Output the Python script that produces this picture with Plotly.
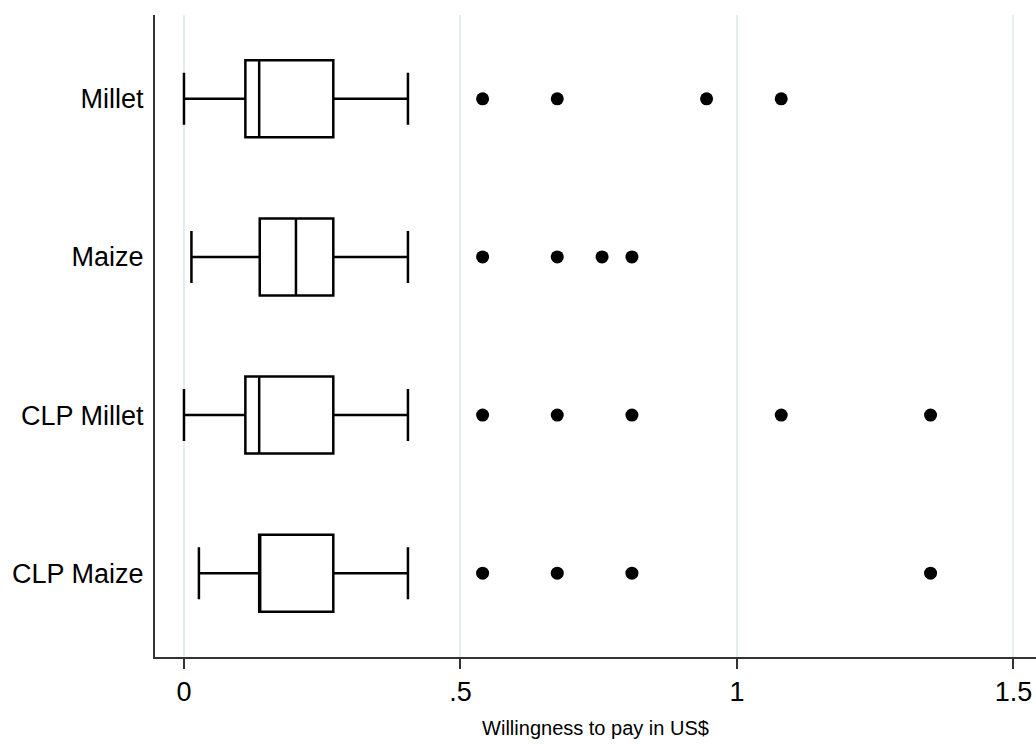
import plotly.graph_objects as go

categories = ["Millet", "Maize", "CLP Millet", "CLP Maize"]
lower_whisker = [0.0, 0.0135, 0.0, 0.027]
q1 = [0.111, 0.137, 0.111, 0.136]
median = [0.136, 0.2025, 0.136, 0.136]
q3 = [0.27, 0.27, 0.27, 0.27]
upper_whisker = [0.405, 0.405, 0.405, 0.405]

outlier_cat = (["Millet"] * 4 + ["Maize"] * 4 + ["CLP Millet"] * 5 + ["CLP Maize"] * 4)
outlier_val = ([0.54, 0.675, 0.945, 1.08] +
               [0.54, 0.675, 0.756, 0.81] +
               [0.54, 0.675, 0.81, 1.08, 1.35] +
               [0.54, 0.675, 0.81, 1.35])

x_ticks = [0, 0.5, 1, 1.5]
x_ticklabels = ["0", ".5", "1", "1.5"]

fig = go.Figure()
fig.add_trace(go.Box(
    y=categories, orientation="h",
    q1=q1, median=median, q3=q3,
    lowerfence=lower_whisker, upperfence=upper_whisker,
    width=0.487, whiskerwidth=0.675,
    fillcolor="white", line=dict(color="black", width=2.5),
    boxpoints=False, showlegend=False, hoverinfo="skip",
))
fig.add_trace(go.Scatter(
    x=outlier_val, y=outlier_cat, mode="markers",
    marker=dict(color="black", size=13),
    showlegend=False, hoverinfo="skip",
))

font = "Liberation Sans, Arial, sans-serif"
fig.update_layout(
    width=1036, height=744,
    margin=dict(l=155, r=0, t=15, b=87),
    paper_bgcolor="white", plot_bgcolor="white",
    font=dict(family=font, color="black"),
    xaxis=dict(
        range=[-0.0524, 1.5407],
        tickvals=x_ticks, ticktext=x_ticklabels,
        ticks="outside", ticklen=10, tickwidth=1.5, tickcolor="#333",
        tickfont=dict(size=27),
        showline=True, linecolor="#333", linewidth=2,
        showgrid=True, gridcolor="#e3eef0", gridwidth=1.5,
        zeroline=False,
        title=dict(text="Willingness to pay in US$", font=dict(size=20), standoff=15),
    ),
    yaxis=dict(
        type="category", categoryarray=categories, categoryorder="array",
        range=[3.53, -0.53],
        showline=True, linecolor="#333", linewidth=2,
        showgrid=False, zeroline=False, ticks="",
        tickfont=dict(size=27), ticklabelstandoff=4,
    ),
)

fig.write_html(
    "out.html",
    config={"displayModeBar": False},
    post_script="document.body.style.margin='0';document.body.style.overflow='hidden';",
)
